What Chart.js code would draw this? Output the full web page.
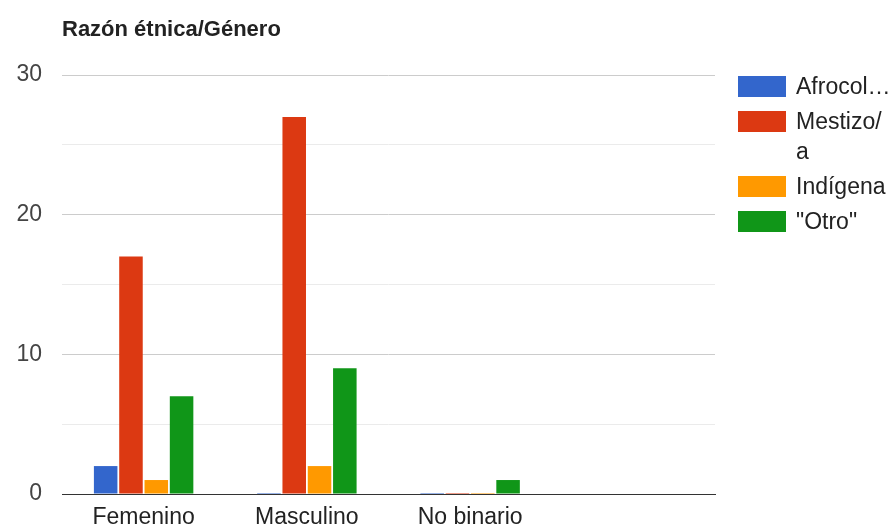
<!DOCTYPE html>
<html>
<head>
<meta charset="utf-8">
<script src="https://cdn.jsdelivr.net/npm/chart.js@4/dist/chart.umd.min.js"></script>
<style>
  body { margin: 0; background: #fff; font-family: "Liberation Sans", Arial, sans-serif; }
  #wrap { position: relative; width: 890px; height: 529px; }
  #title { position: absolute; left: 62px; top: 16px; font-weight: bold; font-size: 22px; color: #222; }
  #legend { position: absolute; left: 738px; top: 71px; }
  .item { display: flex; align-items: flex-start; margin-bottom: 5px; }
  .box { width: 48px; height: 21px; margin-top: 5px; margin-right: 10px; flex: none; }
  .lbl { width: 96px; font-size: 23px; line-height: 30px; color: #222; overflow: hidden; text-overflow: ellipsis; }
</style>
</head>
<body>
<div id="wrap">
  <canvas id="chart" width="890" height="529"></canvas>
  <div id="title">Razón étnica/Género</div>
  <div id="legend"></div>
</div>
<script>
// Categories (4th slot is empty in the original chart)
const categories = ['Femenino', 'Masculino', 'No binario', ''];
const seriesNames = ['Afrocolombiano', 'Mestizo/a', 'Indígena', '"Otro"'];
const seriesColors = ['#3366cc', '#dc3912', '#ff9900', '#109618'];

// Values
const afroValues = [2, 0, 0, null];
const mestizoValues = [17, 27, 0, null];
const indigenaValues = [1, 2, 0, null];
const otroValues = [7, 9, 1, null];

const yTicks = [0, 10, 20, 30];

const allValues = [afroValues, mestizoValues, indigenaValues, otroValues];

const datasets = seriesNames.map((name, i) => ({
    label: name,
    data: allValues[i],
    backgroundColor: seriesColors[i],
    borderWidth: 0,
    minBarLength: 1,
    categoryPercentage: 0.62,
    barPercentage: 0.93
}));

// Legend built as HTML so the labels can wrap / truncate like the original
const legend = document.getElementById('legend');
seriesNames.forEach((name, i) => {
    const item = document.createElement('div');
    item.className = 'item';
    item.innerHTML = `<div class="box" style="background:${seriesColors[i]}"></div>` +
        `<div class="lbl">${name.replace('/', '/\u200B')}</div>`;
    legend.appendChild(item);
});

new Chart(document.getElementById('chart'), {
    type: 'bar',
    data: { labels: categories, datasets: datasets },
    options: {
        responsive: false,
        animation: false,
        layout: { padding: { top: 75, right: 175, bottom: 0, left: 0 } },
        plugins: {
            legend: { display: false },
            title: { display: false },
            tooltip: { enabled: false }
        },
        scales: {
            x: {
                grid: { display: false, drawTicks: false },
                border: { display: true, color: '#333', width: 1 },
                ticks: {
                    color: '#222',
                    padding: 10,
                    font: { family: '"Liberation Sans", Arial', size: 23 }
                },
                afterFit: scale => { scale.height = 35; }
            },
            y: {
                min: 0,
                max: 30,
                grid: {
                    drawTicks: false,
                    color: ctx => yTicks.includes(ctx.tick.value) ? '#cccccc' : '#ebebeb'
                },
                border: { display: false },
                ticks: {
                    stepSize: 5,
                    padding: 20,
                    color: '#444',
                    font: { family: '"Liberation Sans", Arial', size: 23 },
                    callback: v => yTicks.includes(v) ? v : ''
                },
                afterFit: scale => { scale.width = 62; }
            }
        }
    }
});
</script>
</body>
</html>
